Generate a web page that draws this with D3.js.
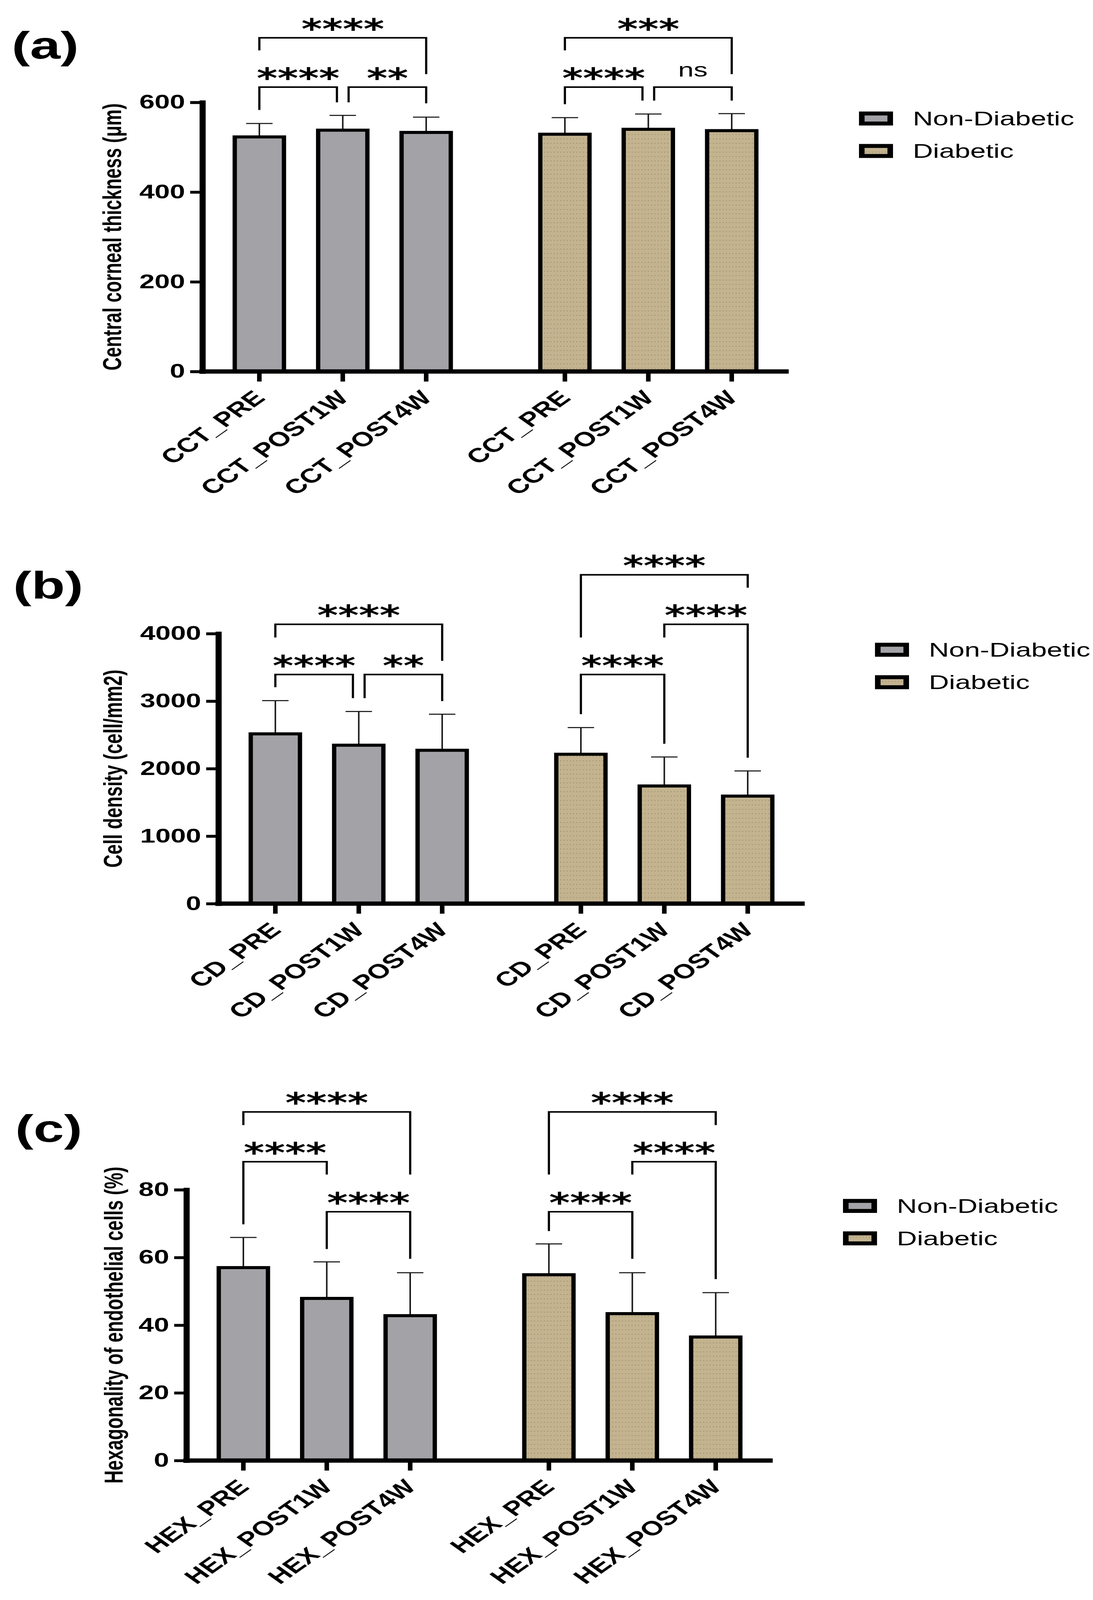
<!DOCTYPE html>
<html>
<head>
<meta charset="utf-8">
<script src="https://cdn.jsdelivr.net/npm/d3@7"></script>
<style>
html,body{margin:0;padding:0;background:#ffffff;overflow:hidden;width:100%;height:100%;}
svg{display:block;width:100vw;height:100vh;}
</style>
</head>
<body>
<svg id="chart"></svg>
<script>
// ---------------- DATA ----------------
const groups = ["Non-Diabetic", "Diabetic"];
const timepoints = ["PRE", "POST1W", "POST4W"];

const cctLabels = ["CCT_PRE", "CCT_POST1W", "CCT_POST4W"];
const cdLabels  = ["CD_PRE", "CD_POST1W", "CD_POST4W"];
const hexLabels = ["HEX_PRE", "HEX_POST1W", "HEX_POST4W"];

const cctNonDiabeticMean = [523, 538, 533];
const cctNonDiabeticSD   = [30, 33, 34];
const cctDiabeticMean    = [529, 540, 537];
const cctDiabeticSD      = [37, 34, 38];

const cdNonDiabeticMean  = [2515, 2347, 2272];
const cdNonDiabeticSD    = [492, 500, 534];
const cdDiabeticMean     = [2213, 1743, 1593];
const cdDiabeticSD       = [395, 429, 373];

const hexNonDiabeticMean = [57.0, 47.9, 42.8];
const hexNonDiabeticSD   = [8.9, 10.8, 12.7];
const hexDiabeticMean    = [54.9, 43.4, 36.5];
const hexDiabeticSD      = [9.1, 12.1, 13.1];

const cctTicks = [0, 200, 400, 600];
const cdTicks  = [0, 1000, 2000, 3000, 4000];
const hexTicks = [0, 20, 40, 60, 80];

// [group, from, to, label, bracket level (data units), left leg end, right leg end]
const cctComparisons = [
  ["Non-Diabetic", 0, 2, "****", 744, 716, 663],
  ["Non-Diabetic", 0, 1, "****", 634, 583, 600],
  ["Non-Diabetic", 1, 2, "**",   634, 600, 598],
  ["Diabetic",     0, 2, "***",  744, 716, 663],
  ["Diabetic",     0, 1, "****", 634, 596, 604],
  ["Diabetic",     1, 2, "ns",   634, 604, 604]
];
const cdComparisons = [
  ["Non-Diabetic", 0, 2, "****", 4138, 3942, 3596],
  ["Non-Diabetic", 0, 1, "****", 3394, 3206, 3044],
  ["Non-Diabetic", 1, 2, "**",   3394, 3044, 3001],
  ["Diabetic",     0, 2, "****", 4871, 3942, 4680],
  ["Diabetic",     1, 2, "****", 4138, 3942, 2162],
  ["Diabetic",     0, 1, "****", 3394, 2807, 2369]
];
const hexComparisons = [
  ["Non-Diabetic", 0, 2, "****", 103.0, 99.1, 84.5],
  ["Non-Diabetic", 0, 1, "****", 88.3, 69.8, 84.5],
  ["Non-Diabetic", 1, 2, "****", 73.5, 62.5, 59.6],
  ["Diabetic",     0, 2, "****", 103.0, 84.5, 99.1],
  ["Diabetic",     1, 2, "****", 88.3, 84.5, 53.6],
  ["Diabetic",     0, 1, "****", 73.5, 67.8, 59.6]
];

// ---------------- LAYOUT ----------------
const W = 2798, H = 4462;
const STRETCH = 1.3;              // reference is stretched horizontally
const VW = W / STRETCH;
const FONT = "'Liberation Sans', Arial, Helvetica, sans-serif";
const STAR_FONT = "'DejaVu Sans', Verdana, sans-serif";
const plotW = 1154.6;

const panels = [
  { tag: "(a)", title: "Central corneal thickness (\u03bcm)", labels: cctLabels, ticks: cctTicks, max: 600,
    nd: [cctNonDiabeticMean, cctNonDiabeticSD], d: [cctDiabeticMean, cctDiabeticSD], comps: cctComparisons,
    left: 398.5, top: 285.5, bottom: 1036, titleX: 225, tagX: 23, tagY: 163 },
  { tag: "(b)", title: "Cell density (cell/mm2)", labels: cdLabels, ticks: cdTicks, max: 4000,
    nd: [cdNonDiabeticMean, cdNonDiabeticSD], d: [cdDiabeticMean, cdDiabeticSD], comps: cdComparisons,
    left: 430, top: 1767, bottom: 2520, titleX: 227, tagX: 26, tagY: 1669 },
  { tag: "(c)", title: "Hexagonality of endothelial cells (%)", labels: hexLabels, ticks: hexTicks, max: 80,
    nd: [hexNonDiabeticMean, hexNonDiabeticSD], d: [hexDiabeticMean, hexDiabeticSD], comps: hexComparisons,
    left: 367, top: 3318, bottom: 4073, titleX: 228.5, tagX: 30, tagY: 3184 }
];

const colors = { "Non-Diabetic": "#a3a2a7", "Diabetic": "url(#dots)" };

const svg = d3.select("#chart")
  .attr("viewBox", `0 0 ${VW} ${H}`)
  .attr("preserveAspectRatio", "none");

svg.append("rect").attr("x", 0).attr("y", 0).attr("width", VW).attr("height", H).attr("fill", "#fff");

const defs = svg.append("defs");
const pat = defs.append("pattern").attr("id", "dots")
  .attr("patternUnits", "userSpaceOnUse").attr("width", 6.4).attr("height", 12.3);
pat.append("rect").attr("width", 6.4).attr("height", 12.3).attr("fill", "#c3b38f");
pat.append("circle").attr("cx", 3.2).attr("cy", 6).attr("r", 1.0).attr("fill", "#6f6045").attr("opacity", 0.75);

panels.forEach(p => {
  const g = svg.append("g");

  const x0 = d3.scaleBand().domain(groups).range([p.left, p.left + plotW])
    .paddingInner(0.181).paddingOuter(0.05);
  const x1 = d3.scaleBand().domain(timepoints).range([0, x0.bandwidth()])
    .paddingInner(0.41).paddingOuter(0.205);
  const y = d3.scaleLinear().domain([0, p.max]).range([p.bottom, p.top]);
  const cx = (grp, i) => x0(grp) + x1(timepoints[i]) + x1.bandwidth() / 2;

  const rows = [];
  groups.forEach((grp, gi) => {
    const src = gi === 0 ? p.nd : p.d;
    timepoints.forEach((t, i) => rows.push({ grp, i, mean: src[0][i], sd: src[1][i], label: p.labels[i] }));
  });

  // error bars
  const eb = g.append("g").attr("stroke", "#1a1a1a").attr("stroke-width", 3);
  eb.selectAll("line.v").data(rows).join("line").attr("class", "v")
    .attr("x1", d => cx(d.grp, d.i)).attr("x2", d => cx(d.grp, d.i))
    .attr("y1", d => y(d.mean)).attr("y2", d => y(d.mean + d.sd));
  eb.selectAll("line.c").data(rows).join("line").attr("class", "c")
    .attr("x1", d => cx(d.grp, d.i) - 26).attr("x2", d => cx(d.grp, d.i) + 26)
    .attr("y1", d => y(d.mean + d.sd)).attr("y2", d => y(d.mean + d.sd));

  // bars
  g.append("g").selectAll("rect").data(rows).join("rect")
    .attr("x", d => cx(d.grp, d.i) - x1.bandwidth() / 2)
    .attr("y", d => y(d.mean))
    .attr("width", x1.bandwidth())
    .attr("height", d => y(0) - y(d.mean))
    .attr("fill", d => colors[d.grp])
    .attr("stroke", "#000").attr("stroke-width", 8.5);

  // y axis
  const ya = g.append("g").attr("transform", `translate(${p.left},0)`)
    .call(d3.axisLeft(y).tickValues(p.ticks).tickSize(24).tickPadding(10).tickSizeOuter(0).tickFormat(d3.format("d")));
  ya.select(".domain").attr("stroke", "#000").attr("stroke-width", 12).attr("stroke-linecap", "square");
  ya.selectAll(".tick line").attr("stroke", "#000").attr("stroke-width", 8);
  ya.selectAll(".tick text").attr("font-family", FONT).attr("font-weight", "bold")
    .attr("font-size", 54).attr("fill", "#000");

  // x axis
  g.append("path")
    .attr("d", d3.line()([[p.left - 6, y(0)], [p.left + plotW, y(0)]]))
    .attr("stroke", "#000").attr("stroke-width", 12).attr("fill", "none");
  g.append("g").selectAll("line").data(rows).join("line")
    .attr("x1", d => cx(d.grp, d.i)).attr("x2", d => cx(d.grp, d.i))
    .attr("y1", y(0)).attr("y2", y(0) + 28)
    .attr("stroke", "#000").attr("stroke-width", 9);
  g.append("g").selectAll("text").data(rows).join("text")
    .attr("transform", d => `translate(${cx(d.grp, d.i)},${y(0) + 63}) rotate(-45)`)
    .attr("text-anchor", "end").attr("dy", "0.35em")
    .attr("font-family", FONT).attr("font-weight", "bold").attr("font-size", 56).attr("fill", "#000")
    .text(d => d.label);

  // y title
  g.append("text")
    .attr("transform", `translate(${p.titleX},${(p.top + p.bottom) / 2}) rotate(-90)`)
    .attr("text-anchor", "middle").attr("dy", "0.26em")
    .attr("font-family", FONT).attr("font-weight", "bold").attr("font-size", 51).attr("fill", "#000")
    .text(p.title);

  // panel tag
  g.append("text").attr("x", p.tagX).attr("y", p.tagY)
    .attr("font-family", FONT).attr("font-weight", "bold").attr("font-size", 108).attr("fill", "#000")
    .text(p.tag);

  // significance brackets
  const comps = p.comps.map(c => ({ grp: c[0], a: c[1], b: c[2], label: c[3], lvl: c[4], la: c[5], lb: c[6] }));
  comps.forEach(c => {
    const shareLeft = comps.some(o => o !== c && o.grp === c.grp && o.lvl === c.lvl && (o.b === c.a));
    const shareRight = comps.some(o => o !== c && o.grp === c.grp && o.lvl === c.lvl && (o.a === c.b));
    c.xa = cx(c.grp, c.a) + (shareLeft ? 11.5 : 0);
    c.xb = cx(c.grp, c.b) - (shareRight ? 11.5 : 0);
  });
  const bg = g.append("g");
  bg.selectAll("path").data(comps).join("path")
    .attr("d", c => d3.line()([[c.xa, y(c.la)], [c.xa, y(c.lvl)], [c.xb, y(c.lvl)], [c.xb, y(c.lb)]]))
    .attr("fill", "none").attr("stroke", "#000").attr("stroke-width", 4.3);
  bg.selectAll("text").data(comps).join("text")
    .attr("x", c => (c.xa + c.xb) / 2)
    .attr("y", c => c.label === "ns" ? y(c.lvl) - 29 : y(c.lvl) + 2)
    .attr("text-anchor", "middle")
    .attr("font-family", c => c.label === "ns" ? FONT : STAR_FONT)
    .attr("font-weight", c => c.label === "ns" ? "normal" : "bold")
    .attr("font-size", c => c.label === "ns" ? 55 : 78)
    .attr("fill", "#000")
    .text(c => c.label);

  // legend
  const lx = p.left + plotW + 138.4;
  const lg = g.append("g");
  groups.forEach((grp, gi) => {
    const cy = p.top + 45 + gi * 90.5;
    lg.append("rect").attr("x", lx + 5.5).attr("y", cy - 14).attr("width", 56).attr("height", 28)
      .attr("fill", colors[grp]).attr("stroke", "#000").attr("stroke-width", 11);
    lg.append("text").attr("x", lx + 106).attr("y", cy).attr("dy", "0.35em")
      .attr("font-family", FONT).attr("font-size", 55).attr("fill", "#000").text(grp);
  });
});
</script>
</body>
</html>
